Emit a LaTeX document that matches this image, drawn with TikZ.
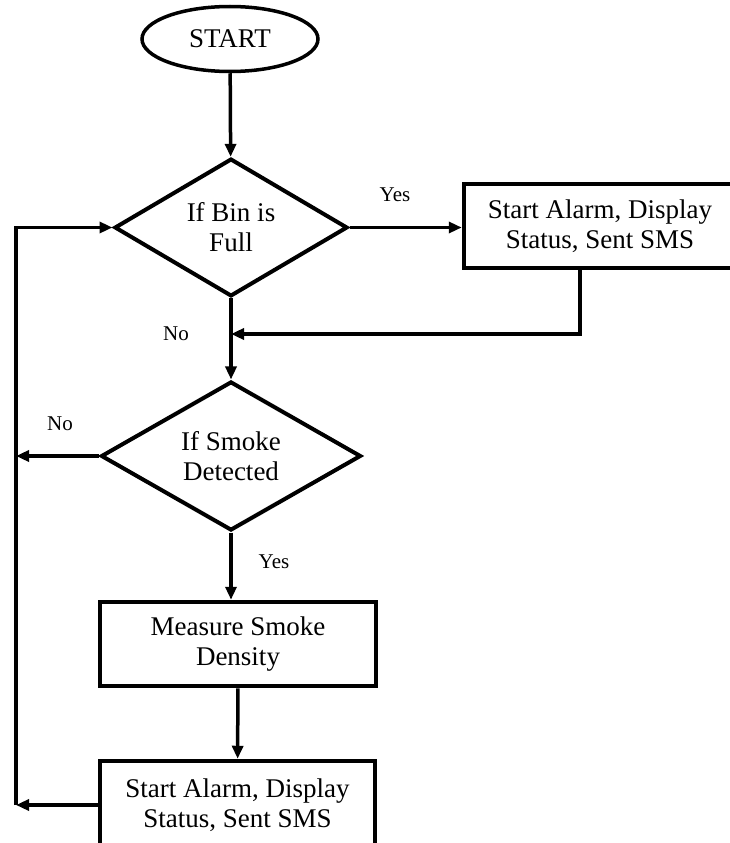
\documentclass[tikz,border=0pt]{standalone}
\usepackage{fontspec}
\setmainfont{Liberation Serif}
\usetikzlibrary{arrows.meta,shapes.geometric}
\newcommand{\flowfont}{\fontsize{27}{30}\selectfont}
\newcommand{\lblfont}{\fontsize{21}{24}\selectfont}

\begin{document}
\begin{tikzpicture}[x=1pt,y=-1pt,>={Triangle[length=13pt,width=11pt]},line join=miter,
 terminal/.style={ellipse,draw,line width=3.5pt,minimum width=176pt,minimum height=65pt,inner sep=0pt,font=\flowfont},
 decision/.style={diamond,draw,line width=4pt,inner sep=0pt,align=center,font=\flowfont},
 flowbox/.style={rectangle,draw,line width=4.5pt,inner sep=0pt,align=center,font=\flowfont},
 arrowline/.style={->,line width=3.5pt},
 lbl/.style={font=\lblfont}]
\useasboundingbox (0,0) rectangle (729,843);
% Start, decision on the bin and its alarm box.
\node[terminal] (start) at (230,39) {START};
\node[decision,minimum width=233pt,minimum height=135pt] (d1) at (231,227.5) {If Bin is\\Full};
\node[flowbox,minimum width=272pt,minimum height=84pt] (box1) at (600,226)
 {Start Alarm, Display\\Status, Sent SMS};
% Smoke check and the two boxes below it.
\node[decision,minimum width=260pt,minimum height=138pt] (d2) at (231,456) {If Smoke\\Detected};
\node[flowbox,minimum width=276pt,minimum height=84pt] (box2) at (238,644) {Measure Smoke\\Density};
\node[flowbox,minimum width=275pt,minimum height=88pt] (box3) at (237.5,805)
 {Start Alarm, Display\\Status, Sent SMS};
\coordinate (j1) at (580,334);
\coordinate (loopb) at (16,805);
% Connectors.
\draw[arrowline] (start) -- (d1);
\draw[arrowline] (d1.east) -- (d1.east -| box1.west);
\draw[arrowline] (d1) -- (d2);
\draw[arrowline] (box1.south -| j1) |- (d1.south |- j1);
\draw[arrowline] (d2) -- (d2.south |- box2.north);
\draw[arrowline] (box2) -- (box3);
\draw[arrowline] (box3.west) -- (loopb);
\draw[arrowline] (loopb) |- (d1.west);
\draw[arrowline] (d2.west) -- (d2.west -| loopb);
% Branch labels.
\node[lbl] (yes1) at (395,195) {Yes};
\node[lbl] (no1) at (176,334) {No};
\node[lbl] (no2) at (60,424) {No};
\node[lbl] (yes2) at (274,562) {Yes};
\end{tikzpicture}
\end{document}
